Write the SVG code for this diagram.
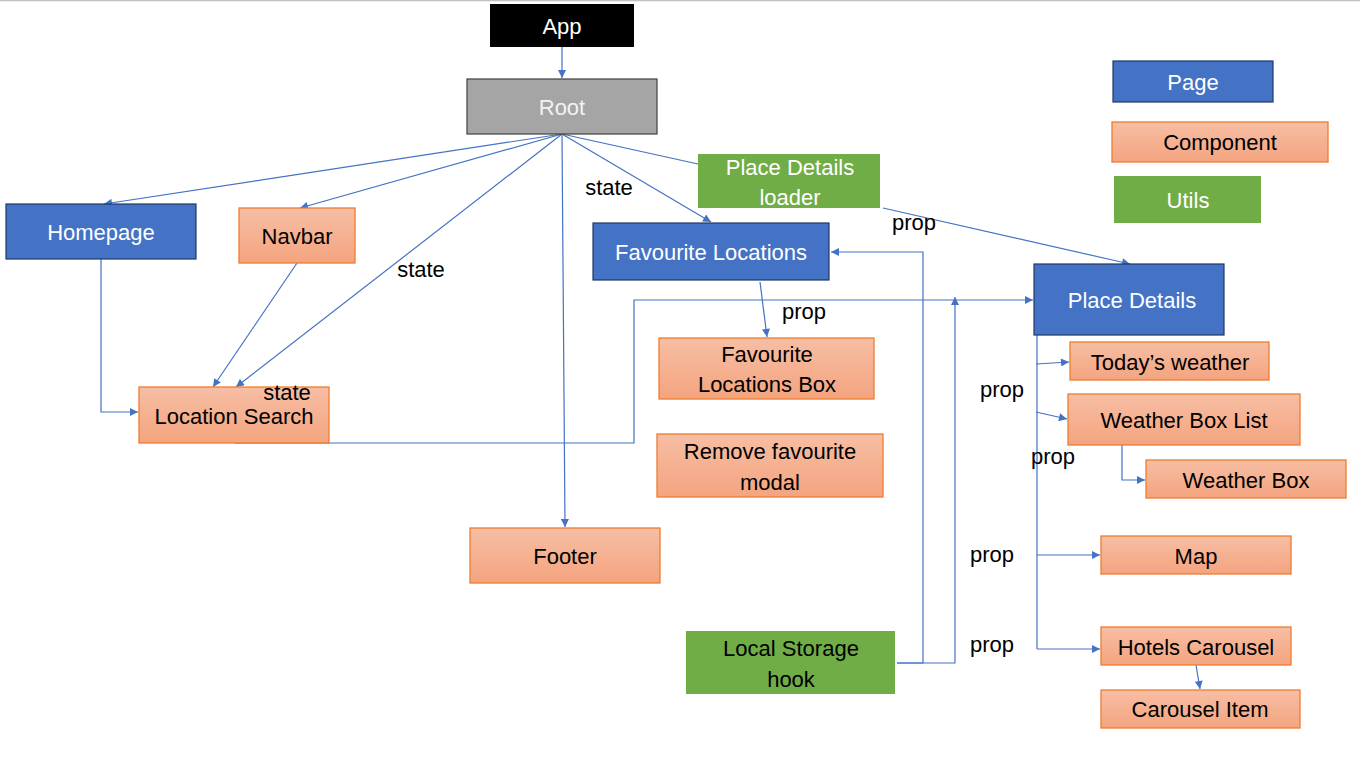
<svg xmlns="http://www.w3.org/2000/svg" width="1360" height="766" viewBox="0 0 1360 766">
<defs>
<linearGradient id="og" x1="0" y1="0" x2="0" y2="1">
<stop offset="0" stop-color="#f7bea4"/>
<stop offset="1" stop-color="#f4a47f"/>
</linearGradient>
<marker id="ar" viewBox="0 0 10 10" refX="10" refY="5" markerWidth="9" markerHeight="8" markerUnits="userSpaceOnUse" orient="auto">
<path d="M0,0 L10,5 L0,10 z" fill="#4472c4"/>
</marker>
</defs>
<style>
text{font-family:"Liberation Sans",Arial,sans-serif;font-size:22px;text-anchor:middle;dominant-baseline:central}
.page rect{fill:#4472c4;stroke:#1f3864;stroke-width:1.2}
.page text{fill:#fff}
.comp rect{fill:url(#og);stroke:#ed7d31;stroke-width:1.3}
.comp text{fill:#000}
.util rect{fill:#70ad47}
.util text{fill:#fff}
.conn line,.conn polyline{stroke:#4472c4;stroke-width:1.2;fill:none}
.arr{marker-end:url(#ar)}
.lbl{fill:#000;font-size:22px}
</style>
<rect x="0" y="0" width="1360" height="766" fill="#fff"/>
<line x1="0" y1="0.5" x2="1360" y2="0.5" stroke="#c0c0c0" stroke-width="1.5"/>

<g id="connectors" class="conn">
<line class="arr" x1="562" y1="47" x2="562" y2="78"/>
<line class="arr" x1="562" y1="134" x2="104" y2="204"/>
<line class="arr" x1="562" y1="134" x2="300" y2="208"/>
<line class="arr" x1="562" y1="134" x2="236" y2="387"/>
<line class="arr" x1="562" y1="134" x2="565" y2="527"/>
<line class="arr" x1="562" y1="134" x2="711" y2="222"/>
<line x1="562" y1="134" x2="698" y2="164"/>
<polyline class="arr" points="101,259 101,412 138,412"/>
<line class="arr" x1="297" y1="263" x2="213" y2="387"/>
<polyline class="arr" points="235,443 634,443 634,300 1033,300"/>
<line class="arr" x1="760" y1="282" x2="767" y2="337"/>
<line class="arr" x1="883" y1="208" x2="1130" y2="264"/>
<polyline class="arr" points="897,663 923,663 923,252 831,252"/>
<polyline class="arr" points="897,663 955,663 955,297"/>
<line x1="1037" y1="335" x2="1037" y2="649"/>
<line class="arr" x1="1036" y1="364" x2="1069" y2="362"/>
<line class="arr" x1="1036" y1="412" x2="1067" y2="419"/>
<polyline class="arr" points="1122,445 1122,480 1145,480"/>
<line class="arr" x1="1037" y1="555" x2="1100" y2="555"/>
<line class="arr" x1="1037" y1="649" x2="1100" y2="649"/>
<line class="arr" x1="1196" y1="665" x2="1200" y2="689"/>
</g>

<g id="app"><rect x="490" y="4" width="144" height="43" fill="#000"/><text x="562" y="26" fill="#fff">App</text></g>
<g id="root"><rect x="467" y="79" width="190" height="55" fill="#a5a5a5" stroke="#404040" stroke-width="1.2"/><text x="562" y="107" fill="#f2f2f2">Root</text></g>
<g id="homepage" class="page"><rect x="6" y="204" width="190" height="55"/><text x="101" y="232">Homepage</text></g>
<g id="navbar" class="comp"><rect x="239" y="208" width="116" height="55"/><text x="297" y="236">Navbar</text></g>
<g id="location-search" class="comp"><rect x="139" y="387" width="190" height="56"/><text x="234" y="416">Location Search</text></g>
<g id="favourite-locations" class="page"><rect x="593" y="223" width="236" height="57"/><text x="711" y="252">Favourite Locations</text></g>
<g id="favourite-locations-box" class="comp"><rect x="659" y="338" width="215" height="61"/><text x="767" y="354">Favourite</text><text x="767" y="384">Locations Box</text></g>
<g id="remove-favourite-modal" class="comp"><rect x="657" y="434" width="226" height="63"/><text x="770" y="451">Remove favourite</text><text x="770" y="482">modal</text></g>
<g id="footer" class="comp"><rect x="470" y="528" width="190" height="55"/><text x="565" y="556">Footer</text></g>
<g id="place-details-loader" class="util"><rect x="698" y="154" width="182" height="54"/><text x="790" y="167">Place Details</text><text x="790" y="197">loader</text></g>
<g id="place-details" class="page"><rect x="1034" y="264" width="190" height="71"/><text x="1132" y="300">Place Details</text></g>
<g id="todays-weather" class="comp"><rect x="1070" y="342" width="199" height="38"/><text x="1170" y="362">Today’s weather</text></g>
<g id="weather-box-list" class="comp"><rect x="1068" y="394" width="232" height="51"/><text x="1184" y="420">Weather Box List</text></g>
<g id="weather-box" class="comp"><rect x="1146" y="460" width="200" height="38"/><text x="1246" y="480">Weather Box</text></g>
<g id="map" class="comp"><rect x="1101" y="536" width="190" height="38"/><text x="1196" y="556">Map</text></g>
<g id="hotels-carousel" class="comp"><rect x="1101" y="627" width="190" height="38"/><text x="1196" y="647">Hotels Carousel</text></g>
<g id="carousel-item" class="comp"><rect x="1101" y="690" width="199" height="38"/><text x="1200" y="709">Carousel Item</text></g>
<g id="local-storage-hook" class="util"><rect x="686" y="631" width="209" height="63"/><text x="791" y="648" style="fill:#000">Local Storage</text><text x="791" y="679" style="fill:#000">hook</text></g>

<g id="legend-page" class="page"><rect x="1113" y="61" width="160" height="41"/><text x="1193" y="82">Page</text></g>
<g id="legend-component" class="comp"><rect x="1112" y="122" width="216" height="40"/><text x="1220" y="142">Component</text></g>
<g id="legend-utils" class="util"><rect x="1114" y="176" width="147" height="47"/><text x="1188" y="200">Utils</text></g>

<g id="labels">
<text class="lbl" x="609" y="187">state</text>
<text class="lbl" x="421" y="269">state</text>
<text class="lbl" x="287" y="392">state</text>
<text class="lbl" x="914" y="222">prop</text>
<text class="lbl" x="804" y="311">prop</text>
<text class="lbl" x="1002" y="389">prop</text>
<text class="lbl" x="1053" y="456">prop</text>
<text class="lbl" x="992" y="554">prop</text>
<text class="lbl" x="992" y="644">prop</text>
</g>
</svg>
